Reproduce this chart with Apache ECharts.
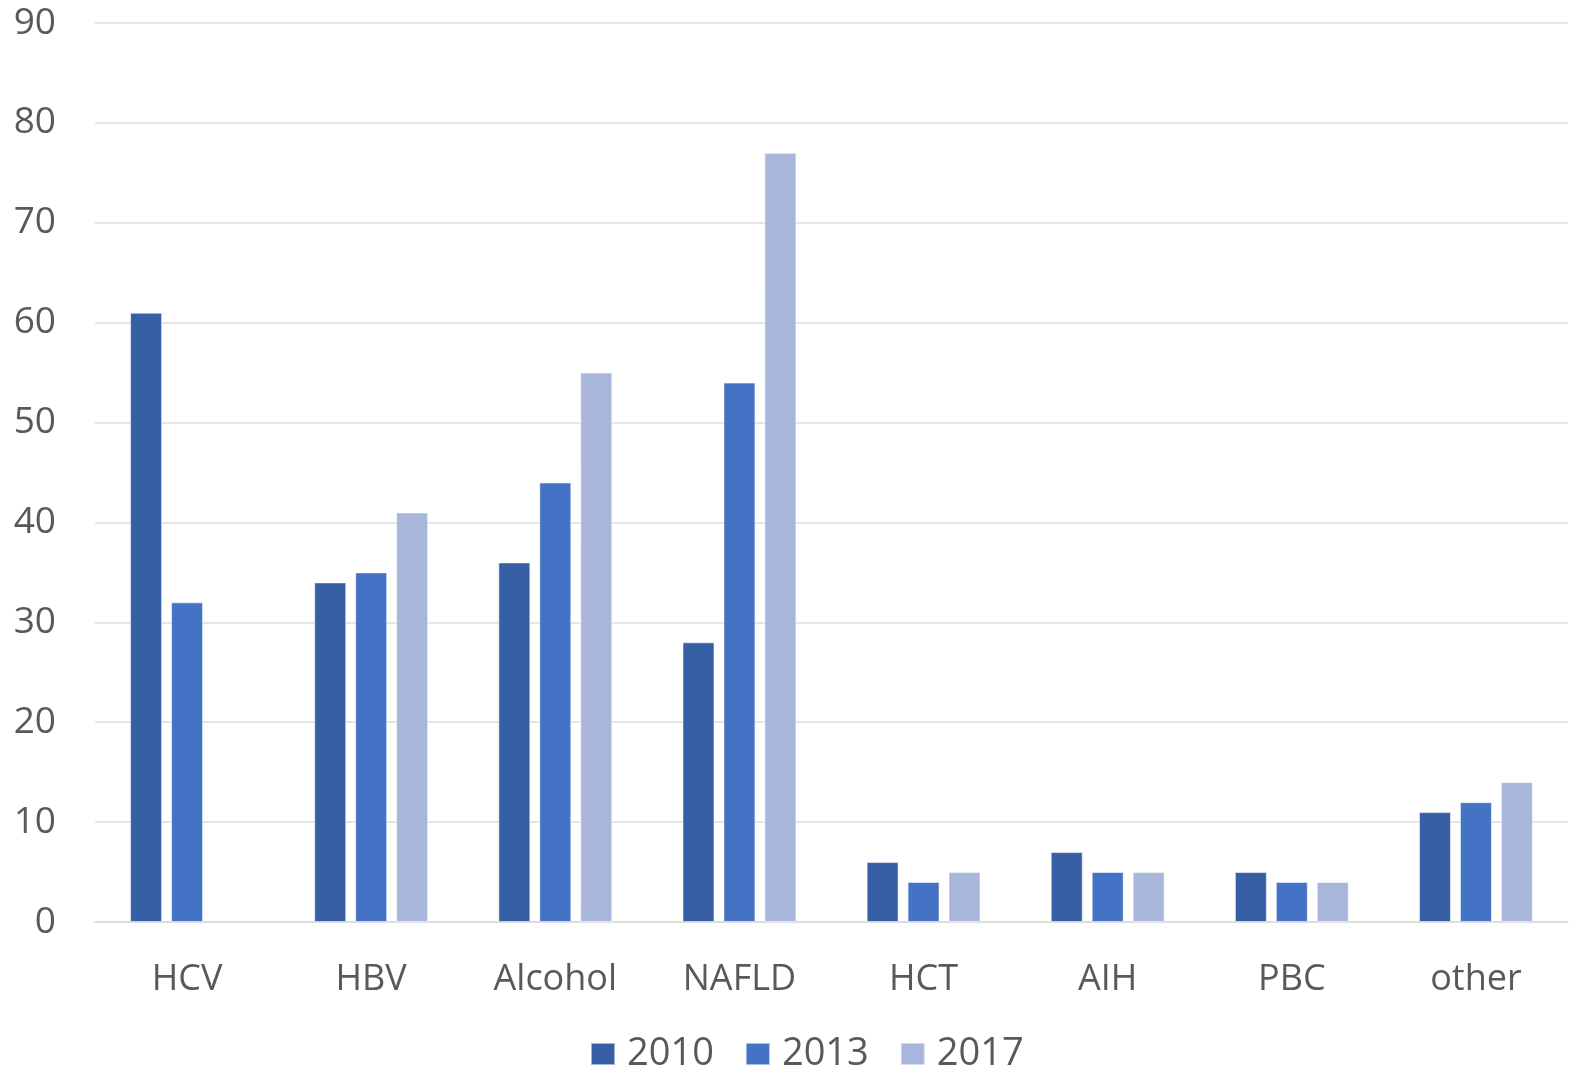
<!DOCTYPE html>
<html>
<head>
<meta charset="utf-8">
<script src="https://cdn.jsdelivr.net/npm/echarts@6/dist/echarts.min.js"></script>
<style>
  html, body { margin: 0; padding: 0; background: #ffffff; }
  #chart { width: 1573px; height: 1069px; }
</style>
</head>
<body>
<div id="chart"></div>
<script>
// Liver disease etiologies by year
const categories = ['HCV', 'HBV', 'Alcohol', 'NAFLD', 'HCT', 'AIH', 'PBC', 'other'];
const years = ['2010', '2013', '2017'];
const values2010 = [61, 34, 36, 28, 6, 7, 5, 11];
const values2013 = [32, 35, 44, 54, 4, 5, 4, 12];
const values2017 = [null, 41, 55, 77, 5, 5, 4, 14];
const yTicks = { min: 0, max: 90, interval: 10 };

const colors = ['#365FA4', '#4472C4', '#A8B6DB'];
const font = '"Open Sans", "Liberation Sans", sans-serif';
const textColor = '#595959';

const seriesValues = [values2010, values2013, values2017];

const chart = echarts.init(document.getElementById('chart'), null, { renderer: 'canvas' });
chart.setOption({
  animation: false,
  backgroundColor: '#ffffff',
  color: colors,
  grid: { left: 95, right: 5, top: 23, bottom: 147, containLabel: false },
  legend: {
    data: years,
    top: 1030,
    left: 585,
    itemWidth: 24,
    itemHeight: 22,
    itemGap: 31,
    icon: 'rect',
    textStyle: { color: textColor, fontSize: 38, fontFamily: font, padding: [0, 0, 0, 7] }
  },
  xAxis: {
    type: 'category',
    data: categories,
    axisLine: { show: true, lineStyle: { color: '#d9d9d9', width: 1.5 } },
    axisTick: { show: false },
    axisLabel: { color: textColor, fontSize: 36, fontFamily: font, margin: 40 }
  },
  yAxis: {
    type: 'value',
    min: yTicks.min,
    max: yTicks.max,
    interval: yTicks.interval,
    axisLine: { show: false },
    axisTick: { show: false },
    axisLabel: { color: textColor, fontSize: 37, fontFamily: font, margin: 39 },
    splitLine: { lineStyle: { color: '#dcdcdc', width: 1.5 } }
  },
  series: years.map((y, i) => ({
    name: y,
    type: 'bar',
    data: seriesValues[i],
    barWidth: 32,
    barGap: '28%',
    itemStyle: { color: colors[i], borderColor: 'rgba(255,255,255,0.55)', borderWidth: 1 }
  }))
});
</script>
</body>
</html>
